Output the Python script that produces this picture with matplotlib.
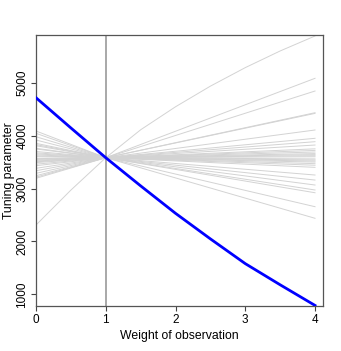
import matplotlib
matplotlib.use("Agg")
import matplotlib.pyplot as plt

# blue curve: tuning parameter vs weight of the highlighted observation
blue_x = [0, 0.5, 1, 1.5, 2, 2.5, 3, 3.5, 4]
blue_y = [4716, 4145, 3582, 3050, 2531, 2048, 1580, 1180, 790]

# gray curves for the other observations, all crossing at weight 1
pivot_y = 3582
gray_start = [4087, 4043, 3979, 3917, 3854, 3830, 3809, 3760, 3747, 3700, 3675,
              3655, 3635, 3615, 3600, 3565, 3550, 3535, 3520, 3505, 3490, 3460,
              3431, 3382, 3336, 3287, 3242, 3215, 3193]
gray_end = [2437, 2656, 2920, 2972, 3066, 3160, 3255, 3400, 3440, 3470, 3500,
            3520, 3540, 3560, 3600, 3620, 3640, 3660, 3690, 3720, 3750, 3822,
            3885, 3949, 4106, 4420, 4433, 4843, 5083]

# the strongly curved one
curve_x = [0, 0.5, 1, 1.5, 2, 2.5, 3, 3.5, 4]
curve_y = [2310, 2970, 3582, 4110, 4545, 4935, 5285, 5600, 5883]

plt.rcParams['font.family'] = ['Liberation Sans', 'DejaVu Sans']

fig = plt.figure(figsize=(3.41, 3.51), dpi=100)
ax = fig.add_axes([0.1056, 0.1282, 0.8407, 0.7721])

for s, e in zip(gray_start, gray_end):
    ax.plot([0, 1, 4], [s, pivot_y, e], color='#d3d3d3', lw=0.7, zorder=1)
ax.plot(curve_x, curve_y, color='#d3d3d3', lw=0.7, zorder=1)

ax.axvline(1, color='#9a9a9a', lw=1.2, zorder=2)
ax.plot(blue_x, blue_y, color='#0000ff', lw=2.0, zorder=3)

ax.set_xlim(0, 4.11)
ax.set_ylim(779, 5902)
ax.set_xticks([0, 1, 2, 3, 4])
ax.set_yticks([1000, 2000, 3000, 4000, 5000])
ax.tick_params(direction='out', length=3.5, width=0.8, colors='#444444',
               labelcolor='black', labelsize=8.5, pad=2)
for lab in ax.get_yticklabels():
    lab.set_rotation(90)
    lab.set_va('center')
for sp in ax.spines.values():
    sp.set_color('#555555')
    sp.set_linewidth(0.9)

ax.set_xlabel('Weight of observation', fontsize=8.8, labelpad=3)
ax.set_ylabel('Tuning parameter', fontsize=8.8)
ax.yaxis.set_label_coords(-0.072, 0.5)

fig.savefig('out.png', dpi=100)
